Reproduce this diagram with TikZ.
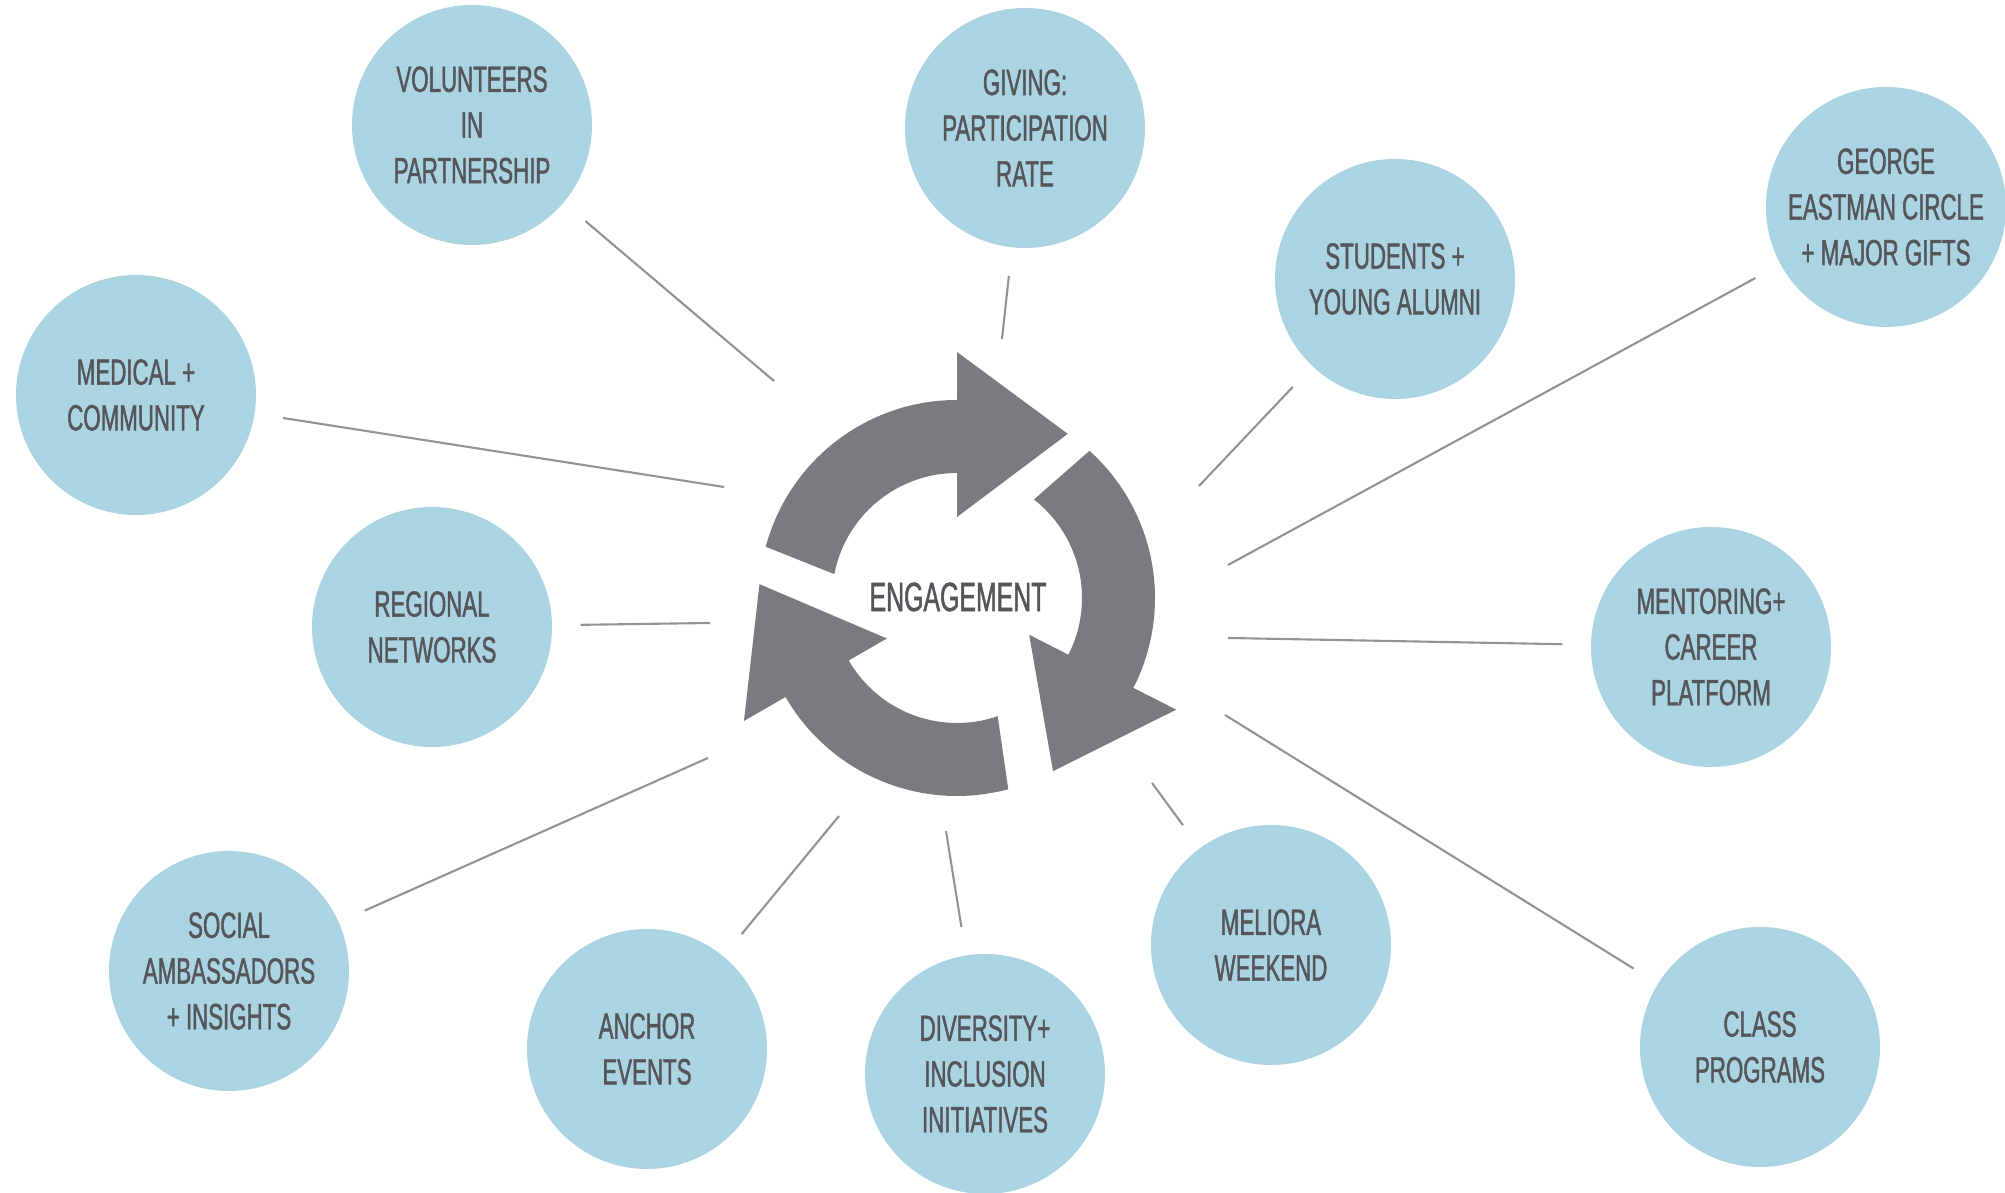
\documentclass[tikz,border=0pt]{standalone}
\usepackage{fontspec}
\setmainfont{Liberation Sans}[FakeStretch=0.61,FakeBold=1.2]
\definecolor{bubble}{HTML}{AAD4E2}
\definecolor{hubgray}{HTML}{7A7B7E}
\definecolor{txtgray}{HTML}{55565A}

\begin{document}
\begin{tikzpicture}
	\useasboundingbox (0,0) rectangle (20.05,11.93);
	\tikzstyle{topic}=[circle,fill=bubble,minimum size=2.4cm,inner sep=0pt,align=center,text=txtgray,font=\fontsize{10.4}{13}\selectfont]
	\tikzstyle{spoke}=[draw=gray!85,line width=0.6pt,shorten <=0.28cm]
	% hub arrows
	\foreach \b in {90,-27,210}
		\fill[hubgray,shift={(9.57,5.95)}] (\b+75:1.98) arc[start angle=\b+75,end angle=\b,radius=1.98] -- (\b:2.46) -- (\b-34:1.98) -- (\b:0.81) -- (\b:1.25) arc[start angle=\b,end angle=\b+79,radius=1.25] -- cycle;
	\node[text=txtgray,font=\fontsize{11.6}{13}\selectfont] (hub) at (9.58,5.96) {ENGAGEMENT};
	% topics
	\node[topic] (vol) at (4.72,10.68) {VOLUNTEERS\\IN\\PARTNERSHIP};
	\node[topic] (giv) at (10.25,10.65) {GIVING:\\PARTICIPATION\\RATE};
	\node[topic] (geo) at (18.86,9.86) {GEORGE\\EASTMAN CIRCLE\\+ MAJOR GIFTS};
	\node[topic] (stu) at (13.95,9.14) {STUDENTS +\\YOUNG ALUMNI};
	\node[topic] (med) at (1.36,7.98) {MEDICAL +\\COMMUNITY};
	\node[topic] (reg) at (4.32,5.66) {REGIONAL\\NETWORKS};
	\node[topic] (men) at (17.11,5.46) {MENTORING+\\CAREER\\PLATFORM};
	\node[topic] (soc) at (2.29,2.22) {SOCIAL\\AMBASSADORS\\+ INSIGHTS};
	\node[topic] (anc) at (6.47,1.44) {ANCHOR\\EVENTS};
	\node[topic] (div) at (9.85,1.19) {DIVERSITY+\\INCLUSION\\INITIATIVES};
	\node[topic] (mel) at (12.71,2.48) {MELIORA\\WEEKEND};
	\node[topic] (cla) at (17.60,1.46) {CLASS\\PROGRAMS};
	% inner ends of the spokes
	\coordinate (vol-e) at (7.74,8.12);
	\coordinate (giv-e) at (10.02,8.54);
	\coordinate (geo-e) at (12.28,6.28);
	\coordinate (stu-e) at (11.99,7.07);
	\coordinate (med-e) at (7.24,7.06);
	\coordinate (reg-e) at (7.10,5.70);
	\coordinate (men-e) at (12.28,5.55);
	\coordinate (soc-e) at (7.08,4.35);
	\coordinate (anc-e) at (8.39,3.77);
	\coordinate (div-e) at (9.46,3.62);
	\coordinate (mel-e) at (11.52,4.10);
	\coordinate (cla-e) at (12.25,4.78);
	\foreach \t in {vol,giv,geo,stu,med,reg,men,soc,anc,div,mel,cla}
		\draw[spoke] (\t) -- (\t-e);
\end{tikzpicture}
\end{document}
